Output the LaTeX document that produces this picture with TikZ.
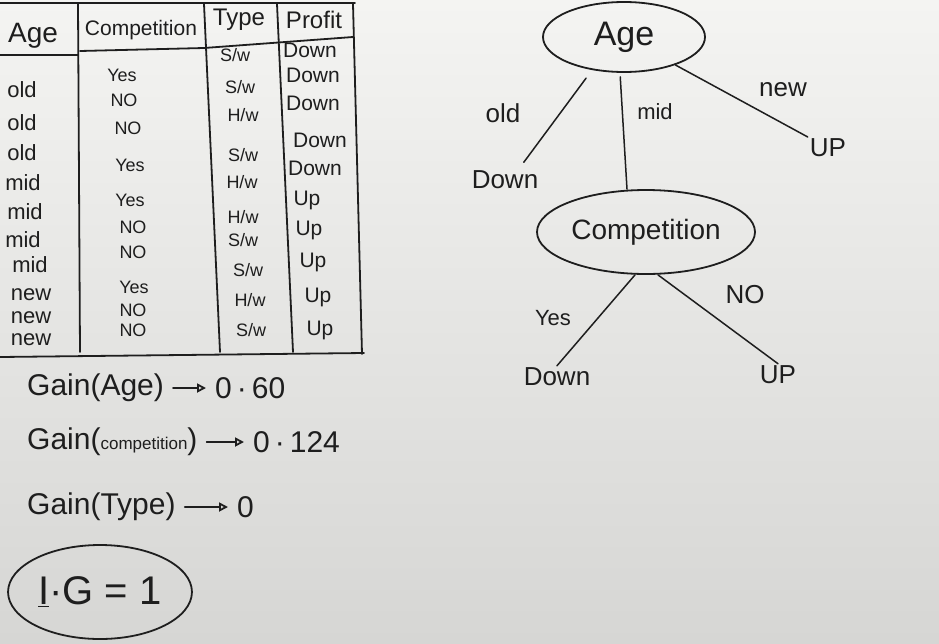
\documentclass[tikz,border=0pt]{standalone}
\usepackage{fontspec}
\setmainfont{Liberation Sans}
\usepackage{xcolor}
\usetikzlibrary{shapes.geometric,arrows.meta}
\definecolor{boardtop}{HTML}{F4F4F2}
\definecolor{boardbottom}{HTML}{D6D6D4}
\definecolor{marker}{HTML}{1E1E1E}

\begin{document}
\begin{tikzpicture}[x=1pt,y=-1pt,
    ink/.style={draw=marker, line width=1.8pt, line cap=round},
    head/.style={text=marker, font=\fontsize{24}{24}\selectfont, inner sep=1pt},
    cell/.style={text=marker, font=\fontsize{18}{18}\selectfont, inner sep=1pt},
    agecell/.style={text=marker, font=\fontsize{22}{22}\selectfont, inner sep=1pt},
    profitcell/.style={text=marker, font=\fontsize{21}{21}\selectfont, inner sep=1pt},
    gaintext/.style={text=marker, font=\fontsize{30}{30}\selectfont, inner sep=1pt, anchor=west},
    gainarrow/.style={ink, -{Triangle[open, length=9pt, width=9pt]}, shorten <=8pt, shorten >=8pt},
    treenode/.style={ellipse, ink, text=marker, inner sep=0pt},
    leaf/.style={text=marker, font=\fontsize{26}{26}\selectfont, inner sep=2pt},
    branch/.style={ink, line width=1.5pt}]
    \useasboundingbox (0,0) rectangle (939,643);
    \shade[top color=boardtop, bottom color=boardbottom] (0,0) rectangle (939,643);

    % table frame
    \draw[ink] (0,3) -- (355,3);
    \draw[ink] (78,4) -- (80,352);
    \draw[ink] (204,4) -- (220,352);
    \draw[ink] (277,4) -- (293,352);
    \draw[ink] (353,4) -- (362,354);
    \draw[ink] (0,55) -- (78,55);
    \draw[ink] (80,51) -- (204,48) -- (353,37);
    \draw[ink] (0,357) -- (364,353);

    % table header
    \node[head, font=\fontsize{28}{28}\selectfont] (hage) at (33,36) {Age};
    \node[head, font=\fontsize{21}{21}\selectfont] (hcomp) at (141,30) {Competition};
    \node[head] (htype) at (239,20) {Type};
    \node[head] (hprofit) at (314,20) {Profit};

    % Age column
    \node[agecell] (a1) at (22,90) {old};
    \node[agecell] (a2) at (22,123) {old};
    \node[agecell] (a3) at (22,153) {old};
    \node[agecell] (a4) at (23,183) {mid};
    \node[agecell] (a5) at (25,212) {mid};
    \node[agecell] (a6) at (23,240) {mid};
    \node[agecell] (a7) at (30,265) {mid};
    \node[agecell] (a8) at (31,295) {new};
    \node[agecell] (a9) at (31,318) {new};
    \node[agecell] (a10) at (31,340) {new};

    % Competition column
    \node[cell] (c1) at (122,75) {Yes};
    \node[cell] (c2) at (124,100) {NO};
    \node[cell] (c3) at (128,128) {NO};
    \node[cell] (c4) at (130,165) {Yes};
    \node[cell] (c5) at (130,200) {Yes};
    \node[cell] (c6) at (133,227) {NO};
    \node[cell] (c7) at (133,252) {NO};
    \node[cell] (c8) at (134,287) {Yes};
    \node[cell] (c9) at (133,310) {NO};
    \node[cell] (c10) at (133,330) {NO};

    % Type column
    \node[cell] (t1) at (235,55) {S/w};
    \node[cell] (t2) at (240,87) {S/w};
    \node[cell] (t3) at (243,115) {H/w};
    \node[cell] (t4) at (243,155) {S/w};
    \node[cell] (t5) at (242,182) {H/w};
    \node[cell] (t6) at (243,217) {H/w};
    \node[cell] (t7) at (243,240) {S/w};
    \node[cell] (t8) at (248,270) {S/w};
    \node[cell] (t9) at (250,300) {H/w};
    \node[cell] (t10) at (251,330) {S/w};

    % Profit column
    \node[profitcell] (p1) at (310,50) {Down};
    \node[profitcell] (p2) at (313,75) {Down};
    \node[profitcell] (p3) at (313,103) {Down};
    \node[profitcell] (p4) at (320,140) {Down};
    \node[profitcell] (p5) at (315,168) {Down};
    \node[profitcell] (p6) at (307,200) {Up};
    \node[profitcell] (p7) at (309,230) {Up};
    \node[profitcell] (p8) at (313,262) {Up};
    \node[profitcell] (p9) at (318,297) {Up};
    \node[profitcell] (p10) at (320,330) {Up};

    % gains
    \node[gaintext] (gage) at (26,388) {Gain(Age)};
    \node[gaintext] (vage) at (214,388) {0\,·\,60};
    \draw[gainarrow] (gage) -- (vage);
    \node[gaintext] (gcomp) at (26,442) {Gain({\fontsize{17}{17}\selectfont competition})};
    \node[gaintext] (vcomp) at (252,442) {0\,·\,124};
    \draw[gainarrow] (gcomp) -- (vcomp);
    \node[gaintext] (gtype) at (26,507) {Gain(Type)};
    \node[gaintext] (vtype) at (236,507) {0};
    \draw[gainarrow] (gtype) -- (vtype);
    \node[ellipse, ink, text=marker, font=\fontsize{40}{40}\selectfont,
          minimum width=176, minimum height=94] (ig) at (100,592) {\underline{I}·G = 1};

    % decision tree
    \node[treenode, font=\fontsize{34}{34}\selectfont, minimum width=162, minimum height=70] (age) at (624,37) {Age};
    \node[treenode, font=\fontsize{28}{28}\selectfont, minimum width=218, minimum height=84] (comp) at (646,232) {Competition};
    \node[leaf] (down1) at (505,180) {Down};
    \node[leaf] (up1) at (828,148) {UP};
    \node[leaf] (down2) at (557,377) {Down};
    \node[leaf] (up2) at (778,375) {UP};
    \node[leaf] (lold) at (503,113) {old};
    \node[leaf, font=\fontsize{22}{22}\selectfont] (lmid) at (655,112) {mid};
    \node[leaf] (lnew) at (783,90) {new};
    \node[leaf, font=\fontsize{22}{22}\selectfont] (lyes) at (553,318) {Yes};
    \node[leaf] (lno) at (745,295) {NO};
    \draw[branch, shorten <=10pt, shorten >=8pt] (age.226) -- ([xshift=14pt]down1.north);
    \draw[branch, shorten <=4pt] ([xshift=-4pt]age.south) -- ([xshift=-19pt]comp.north);
    \draw[branch] (age) -- (up1);
    \draw[branch] ([xshift=-11pt]comp.south) -- (down2.north);
    \draw[branch] ([xshift=12pt]comp.south) -- (up2.north);
\end{tikzpicture}
\end{document}
